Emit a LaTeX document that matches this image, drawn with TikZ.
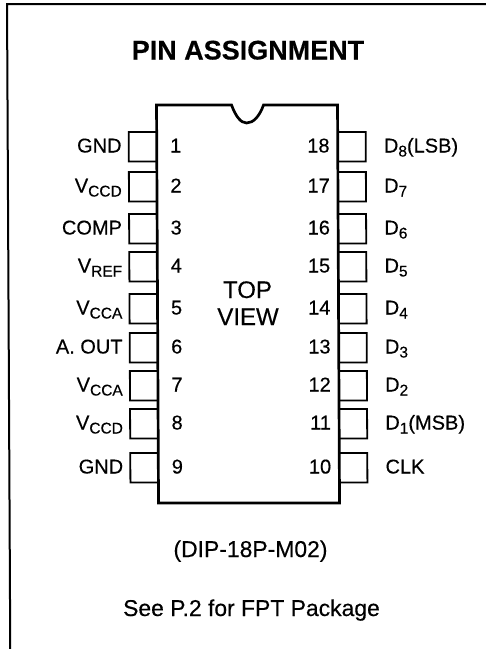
\documentclass[tikz,border=0pt]{standalone}
\usepackage{fontspec}
\setmainfont[FakeBold=0.35]{Liberation Sans}
\newcommand{\subs}[1]{\raisebox{-4pt}{\fontsize{15.5}{15.5}\selectfont #1}}
\tikzset{
  chipline/.style={line width=2.7pt,line join=miter},
  pinbox/.style={line width=1.8pt},
  frameline/.style={line width=2pt},
  pintext/.style={inner sep=0pt,font=\fontsize{20}{20}\selectfont},
  headtext/.style={inner sep=0pt,anchor=base,font=\fontsize{24}{24}\selectfont},
  notetext/.style={inner sep=0pt,anchor=base,font=\fontsize{22.9}{22.9}\selectfont}
}
\begin{document}
\begin{tikzpicture}[x=1pt,y=-1pt]
\newcommand{\chipl}{156}
\newcommand{\chipr}{337}
\newcommand{\chipt}{105}
\newcommand{\chipb}{503}
\newcommand{\pinw}{28}
\newcommand{\pinleft}[3]{
  \draw [pinbox] (\chipl,#1) -- (\chipl-\pinw,#1) -- (\chipl-\pinw,#1+29.5) -- (\chipl,#1+29.5);
  \node [pintext,anchor=base] (numl#2) at (175,#1+20.5) {#2};
  \node [pintext,anchor=base east] (labl#2) at (121,#1+20.5) {#3};
}
\newcommand{\pinright}[3]{
  \draw [pinbox] (\chipr,#1) -- (\chipr+\pinw,#1) -- (\chipr+\pinw,#1+29.5) -- (\chipr,#1+29.5);
  \node [pintext,anchor=base east] (numr#2) at (329,#1+20.5) {#2};
  \node [pintext,anchor=base west] (labr#2) at (383,#1+20.5) {#3};
}
\useasboundingbox (0,0) rectangle (486,649);
\begin{scope}[xslant=-0.005]
\draw [frameline] (490,4) -- (7,4) -- (7,655);
\pinleft{132}{1}{GND}
\pinleft{172}{2}{V\subs{CCD}}
\pinleft{214}{3}{COMP}
\pinleft{252}{4}{V\subs{REF}}
\pinleft{294}{5}{V\subs{CCA}}
\pinleft{333}{6}{A. OUT}
\pinleft{371}{7}{V\subs{CCA}}
\pinleft{409}{8}{V\subs{CCD}}
\pinleft{453}{9}{GND}
\pinright{132}{18}{D\subs{8}(LSB)}
\pinright{172}{17}{D\subs{7}}
\pinright{214}{16}{D\subs{6}}
\pinright{252}{15}{D\subs{5}}
\pinright{294}{14}{D\subs{4}}
\pinright{333}{13}{D\subs{3}}
\pinright{371}{12}{D\subs{2}}
\pinright{409}{11}{D\subs{1}(MSB)}
\pinright{453}{10}{CLK}
\draw [chipline] (\chipl,\chipt) -- (231,\chipt) .. controls (235,116) and (240,123) .. (246,123) .. controls (253,123) and (259,116) .. (263,\chipt) -- (\chipr,\chipt) -- (\chipr,\chipb) -- (\chipl,\chipb) -- cycle;
\end{scope}
\node [inner sep=0pt,anchor=base,font=\bfseries\fontsize{27}{27}\selectfont] (title) at (248,59.5) {PIN ASSIGNMENT};
\node [headtext] (topword) at (247.5,298) {TOP};
\node [headtext] (viewword) at (248,325) {VIEW};
\node [notetext] (package) at (250.5,557) {(DIP-18P-M02)};
\node [notetext] (seenote) at (251.5,616) {See P.2 for FPT Package};
\end{tikzpicture}
\end{document}
